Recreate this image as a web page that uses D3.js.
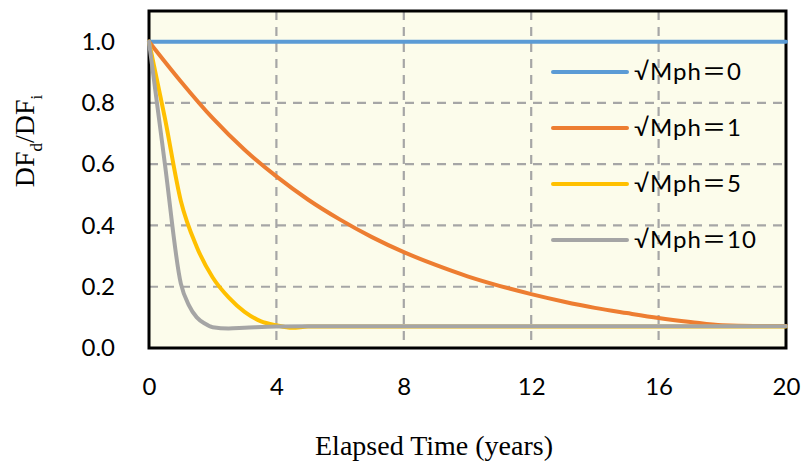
<!DOCTYPE html>
<html>
<head>
<meta charset="utf-8">
<script src="https://cdn.jsdelivr.net/npm/d3@7"></script>
<style>
  body { margin: 0; background: #fff; }
  svg { display: block; }
</style>
</head>
<body>
<svg id="chart" width="801" height="463"></svg>
<script>
// series data
var xTicks = [0, 4, 8, 12, 16, 20];
var yTicks = [0, 0.2, 0.4, 0.6, 0.8, 1.0];

var tBlue = [0, 20];
var vBlue = [1.0, 1.0];

var tOrange = [0, 1, 2, 3, 4, 5, 6, 7, 8, 9, 10, 11, 12, 13, 14, 15, 16, 17, 18, 19, 20];
var vOrange = [1.0, 0.87, 0.75, 0.647, 0.56, 0.484, 0.419, 0.362, 0.313, 0.271, 0.234,
               0.203, 0.176, 0.152, 0.131, 0.114, 0.098, 0.085, 0.074, 0.072, 0.072];

var tYellow = [0, 0.5, 1, 1.5, 2, 2.5, 3, 3.5, 4, 4.5, 5, 20];
var vYellow = [1.0, 0.75, 0.48, 0.33, 0.23, 0.165, 0.118, 0.088, 0.074, 0.066, 0.07, 0.07];

var tGray = [0, 0.5, 1, 1.25, 1.5, 1.75, 2, 2.5, 3, 4, 5, 20];
var vGray = [1.0, 0.6, 0.21, 0.14, 0.1, 0.08, 0.068, 0.064, 0.066, 0.07, 0.071, 0.071];

var seriesNames = ['\u221AMph\uFF1D0', '\u221AMph\uFF1D1', '\u221AMph\uFF1D5', '\u221AMph\uFF1D10'];
var seriesColors = ['#5B9BD5', '#ED7D31', '#FFC000', '#A5A5A5'];

function pairs(t, v) {
    return t.map(function(d, i) { return [d, v[i]]; });
}
var series = [pairs(tBlue, vBlue), pairs(tOrange, vOrange), pairs(tYellow, vYellow), pairs(tGray, vGray)];

var svg = d3.select('#chart');
var pLeft = 149, pRight = 786, pTop = 11, pBottom = 348;

var xScale = d3.scaleLinear().domain([0, 20]).range([pLeft, pRight]);
var yScale = d3.scaleLinear().domain([0, 1.1]).range([pBottom, pTop]);

// plot background
svg.append('rect')
    .attr('x', pLeft).attr('y', pTop)
    .attr('width', pRight - pLeft).attr('height', pBottom - pTop)
    .attr('fill', '#FCFCEB');

// gridlines
svg.append('g').selectAll('line')
    .data(xTicks.slice(1, -1))
    .enter().append('line')
    .attr('x1', function(d) { return xScale(d); })
    .attr('x2', function(d) { return xScale(d); })
    .attr('y1', pTop).attr('y2', pBottom)
    .attr('stroke', '#A6A6A6').attr('stroke-width', 2.2)
    .attr('stroke-dasharray', '9,7');

svg.append('g').selectAll('line')
    .data(yTicks.slice(1))
    .enter().append('line')
    .attr('y1', function(d) { return yScale(d); })
    .attr('y2', function(d) { return yScale(d); })
    .attr('x1', pLeft).attr('x2', pRight)
    .attr('stroke', '#A6A6A6').attr('stroke-width', 2.2)
    .attr('stroke-dasharray', '9,7');

// frame
svg.append('rect')
    .attr('x', pLeft).attr('y', pTop)
    .attr('width', pRight - pLeft).attr('height', pBottom - pTop)
    .attr('fill', 'none')
    .attr('stroke', '#000').attr('stroke-width', 3);

// curves
var line = d3.line()
    .x(function(d) { return xScale(d[0]); })
    .y(function(d) { return yScale(d[1]); })
    .curve(d3.curveMonotoneX);

svg.append('g').selectAll('path')
    .data(series)
    .enter().append('path')
    .attr('d', line)
    .attr('fill', 'none')
    .attr('stroke', function(d, i) { return seriesColors[i]; })
    .attr('stroke-width', 4)
    .attr('stroke-linecap', 'round')
    .attr('stroke-linejoin', 'round');

// axes
var xAxis = svg.append('g')
    .attr('transform', 'translate(0,' + pBottom + ')')
    .call(d3.axisBottom(xScale).tickValues(xTicks).tickSize(0).tickPadding(30));
var yAxis = svg.append('g')
    .attr('transform', 'translate(' + pLeft + ',0)')
    .call(d3.axisLeft(yScale).tickValues(yTicks).tickSize(0).tickPadding(34)
        .tickFormat(d3.format('.1f')));

[xAxis, yAxis].forEach(function(a) {
    a.select('.domain').remove();
    a.selectAll('text')
        .style('font-family', 'Lato, "Noto Sans", sans-serif')
        .style('font-size', '24px')
        .attr('fill', '#000');
});

// legend
var legend = svg.append('g').selectAll('g')
    .data(seriesNames)
    .enter().append('g')
    .attr('transform', function(d, i) { return 'translate(553,' + (72 + i * 56) + ')'; });

legend.append('line')
    .attr('x1', 0).attr('x2', 74)
    .attr('stroke', function(d, i) { return seriesColors[i]; })
    .attr('stroke-width', 4)
    .attr('stroke-linecap', 'round');

legend.append('text')
    .attr('x', 81).attr('dy', '0.35em')
    .style('font-family', 'Lato, "Noto Sans CJK JP", sans-serif')
    .style('font-size', '24px')
    .style('letter-spacing', '1px')
    .attr('fill', '#000')
    .text(function(d) { return d; });

// axis titles
svg.append('text')
    .attr('x', 434).attr('y', 455)
    .style('text-anchor', 'middle')
    .style('font-family', '"Liberation Serif", serif')
    .style('font-size', '28px')
    .text('Elapsed Time (years)');

var yTitle = svg.append('text')
    .attr('transform', 'translate(34,141) rotate(-90)')
    .style('text-anchor', 'middle')
    .style('font-family', '"Liberation Serif", serif')
    .style('font-size', '28px');
yTitle.append('tspan').text('DF');
yTitle.append('tspan').attr('dy', 8).style('font-size', '17px').text('d');
yTitle.append('tspan').attr('dy', -8).text('/DF');
yTitle.append('tspan').attr('dy', 8).style('font-size', '17px').text('i');
</script>
</body>
</html>
